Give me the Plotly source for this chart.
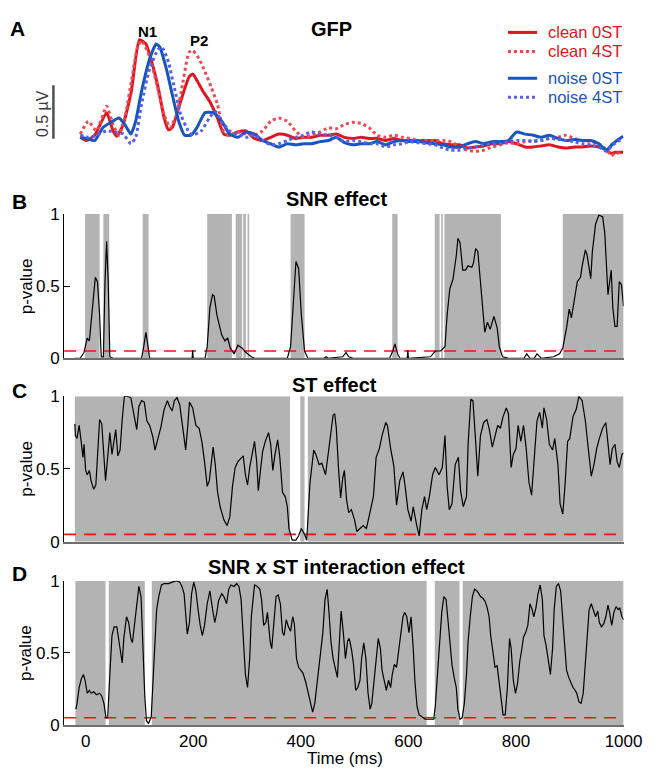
import plotly.graph_objects as go

# ---------------- DATA ----------------
# Panel A: GFP (time ms, microvolts)
clean_0st = [(-10,.15),(1,.12),(17,.17),(39,.38),(51,.21),(58,.16),(70,.27),(85,.58),(100,1.06),(112,1.02),(123,.85),(135,.61),(146,.33),(154,.22),(161,.24),(177,.49),(192,.71),(199,.74),(207,.68),(218,.58),(230,.49),(245,.33),(257,.18),(268,.17),(283,.20),(298,.21),(314,.14),(329,.12),(344,.15),(359,.18),(375,.17),(390,.14),(405,.15),(420,.15),(436,.17),(451,.17),(466,.18),(481,.15),(497,.14),(512,.15),(527,.14),(542,.14),(558,.12),(573,.14),(588,.12),(603,.12),(618,.12),(634,.12),(649,.12),(664,.09),(679,.08),(695,.08),(710,.05),(725,.06),(740,.07),(756,.09),(771,.09),(786,.11),(801,.09),(817,.06),(832,.06),(847,.07),(862,.08),(878,.06),(893,.05),(908,.06),(923,.06),(939,.07),(954,.06),(969,.03),(977,.0),(984,.01),(999,.01)]
clean_4st = [(-10,.18),(5,.30),(20,.21),(39,.44),(51,.27),(62,.17),(74,.36),(85,.67),(97,1.0),(104,1.05),(116,.94),(131,.67),(146,.36),(157,.24),(169,.36),(180,.64),(192,.94),(199,.96),(211,.88),(222,.76),(234,.61),(245,.46),(257,.20),(268,.17),(283,.20),(298,.18),(314,.17),(329,.21),(344,.30),(359,.33),(375,.30),(390,.21),(405,.15),(420,.17),(436,.20),(451,.24),(466,.23),(481,.27),(497,.29),(512,.28),(527,.24),(542,.17),(558,.15),(573,.17),(588,.15),(603,.14),(618,.12),(634,.12),(649,.12),(664,.12),(679,.11),(695,.06),(710,.03),(725,.02),(740,.03),(756,.06),(771,.08),(786,.10),(801,.09),(817,.11),(832,.12),(847,.12),(862,.14),(878,.15),(893,.17),(908,.14),(923,.12),(939,.11),(954,.09),(969,.03),(977,-.02),(984,0),(999,.01)]
noise_0st = [(-10,.15),(1,.14),(17,.12),(32,.24),(47,.29),(62,.33),(74,.26),(84,.18),(93,.30),(104,.58),(119,.88),(131,1.02),(138,.99),(150,.79),(161,.55),(173,.30),(184,.17),(196,.17),(207,.24),(222,.38),(237,.38),(253,.30),(268,.18),(283,.15),(298,.20),(314,.18),(329,.12),(344,.09),(359,.06),(375,.09),(390,.08),(405,.09),(420,.09),(436,.11),(451,.12),(466,.15),(481,.10),(497,.08),(512,.09),(527,.09),(542,.11),(558,.08),(573,.11),(588,.12),(603,.11),(618,.11),(634,.10),(649,.09),(664,.08),(679,.06),(695,.06),(710,.09),(725,.11),(740,.09),(756,.11),(771,.11),(786,.12),(801,.20),(817,.18),(832,.17),(847,.15),(862,.17),(878,.14),(893,.12),(908,.13),(923,.12),(939,.12),(954,.09),(968,.03),(980,.09),(999,.16)]
noise_4st = [(-10,.17),(5,.15),(20,.17),(39,.21),(55,.20),(70,.18),(84,.09),(93,.15),(104,.46),(119,.79),(135,.97),(142,.99),(154,.85),(165,.61),(177,.36),(192,.20),(199,.17),(215,.21),(230,.33),(241,.39),(253,.30),(268,.21),(283,.18),(298,.15),(314,.17),(329,.12),(344,.08),(359,.09),(375,.12),(390,.15),(405,.17),(420,.20),(436,.18),(451,.17),(466,.15),(481,.11),(497,.12),(512,.11),(527,.09),(542,.09),(558,.06),(573,.08),(588,.09),(603,.11),(618,.10),(634,.09),(649,.08),(664,.05),(679,.03),(695,.03),(710,.05),(725,.06),(740,.08),(756,.09),(771,.09),(786,.11),(801,.12),(817,.12),(832,.11),(847,.12),(862,.14),(878,.13),(893,.12),(908,.11),(923,.09),(939,.08),(954,.06),(968,.02),(980,.08),(999,.14)]

# Panel B: SNR effect p-values
snr_p = [(-20,0),(-10,0),(-3,.04),(3,.14),(7,.12),(13,.35),(18,.56),(22,.53),(26,.30),(29,.01),(33,.01),(36,.53),(39,.81),(42,.53),(45,.01),(51,0),(104,0),(108,.08),(112,.18),(116,.08),(119,0),(198,0),(199,.055),(200,0),(222,0),(226,.08),(231,.35),(236,.44),(239,.43),(244,.30),(249,.23),(253,.16),(259,.12),(264,.14),(269,.07),(276,.03),(283,.09),(291,.07),(298,.04),(308,.01),(314,0),(375,0),(381,.08),(386,.35),(391,.67),(396,.62),(401,.30),(407,.05),(413,0),(443,0),(447,.01),(451,0),(478,.01),(484,.04),(489,.01),(497,0),(565,0),(571,.05),(575,.10),(580,.03),(584,0),(598,0),(599,.055),(600,0),(641,.01),(650,.05),(660,.05),(668,.08),(672,.30),(677,.48),(683,.55),(689,.71),(692,.83),(696,.80),(701,.61),(706,.61),(711,.64),(718,.63),(721,.66),(725,.76),(729,.74),(733,.57),(739,.30),(742,.18),(747,.25),(752,.20),(759,.29),(765,.21),(769,.08),(775,.01),(786,0),(815,0),(820,.03),(826,0),(834,0),(839,.03),(847,0),(870,.01),(881,.03),(887,.07),(894,.21),(899,.34),(903,.28),(908,.40),(914,.53),(920,.56),(923,.64),(929,.75),(932,.72),(939,.55),(942,.74),(948,.93),(954,.99),(961,.98),(965,.87),(971,.44),(977,.61),(980,.35),(984,.22),(988,.22),(992,.53),(996,.51),(1000,.36)]
snr_ns_start = [-1, 33, 106, 226, 279, 293, 301, 381, 570, 649, 661, 667, 887]
snr_ns_end   = [26, 44, 117, 272, 291, 298, 304, 407, 580, 658, 664, 772, 1000]

# Panel C: ST effect p-values
st_p = [(-20,.81),(-19,.73),(-16,.71),(-12,.80),(-8,.68),(-5,.58),(-3,.67),(0,.49),(3,.46),(7,.49),(10,.42),(15,.36),(19,.39),(23,.62),(26,.84),(30,.81),(34,.58),(37,.42),(41,.58),(45,.75),(49,.60),(52,.67),(56,.77),(60,.59),(64,.63),(68,.84),(72,1.0),(77,1.0),(84,.99),(89,.89),(95,.77),(99,.93),(104,.97),(109,.96),(114,.83),(119,.80),(125,.72),(129,.63),(135,.71),(140,.79),(146,.91),(152,.97),(156,.93),(161,.90),(165,.97),(170,.99),(175,.94),(180,.80),(186,.63),(190,.80),(193,.96),(199,.92),(205,.80),(211,.78),(216,.69),(221,.55),(226,.38),(230,.42),(234,.55),(237,.65),(241,.53),(245,.35),(250,.24),(257,.15),(263,.11),(268,.17),(273,.38),(278,.51),(283,.55),(289,.57),(293,.59),(297,.46),(301,.39),(305,.51),(308,.58),(314,.69),(318,.55),(321,.35),(325,.49),(329,.62),(334,.69),(340,.75),(344,.67),(348,.49),(352,.60),(357,.70),(361,.58),(366,.34),(371,.31),(375,.24),(378,.09),(384,.01),(391,.01),(396,.04),(401,.09),(407,.05),(411,.01),(417,.40),(424,.63),(428,.60),(434,.53),(439,.54),(446,.46),(451,.62),(455,.72),(460,.87),(463,.88),(466,.78),(470,.51),(474,.30),(478,.44),(481,.49),(485,.29),(489,.20),(494,.22),(500,.15),(504,.07),(510,.09),(516,.11),(522,.09),(527,.17),(535,.31),(540,.58),(546,.64),(551,.73),(558,.82),(561,.80),(567,.64),(573,.52),(578,.25),(584,.42),(590,.48),(594,.38),(599,.22),(605,.14),(609,.24),(615,.12),(620,.04),(625,.22),(630,.31),(634,.22),(639,.31),(645,.46),(650,.51),(657,.46),(663,.51),(668,.73),(672,.38),(676,.22),(681,.26),(687,.53),(693,.58),(697,.35),(702,.24),(708,.31),(711,.67),(716,.98),(720,.97),(725,.69),(729,.45),(734,.73),(740,.82),(746,.84),(750,.78),(756,.65),(761,.73),(766,.80),(771,.78),(776,.86),(782,.92),(786,.88),(791,.51),(795,.60),(800,.64),(804,.80),(809,.69),(814,.80),(819,.64),(824,.41),(829,.32),(834,.58),(839,.83),(844,.89),(849,.78),(852,.92),(857,.84),(862,.67),(868,.63),(872,.71),(878,.53),(882,.26),(887,.19),(891,.38),(896,.69),(900,.71),(906,.86),(912,.91),(917,1.0),(923,.97),(929,.83),(935,.62),(940,.45),(945,.53),(950,.64),(955,.71),(961,.78),(967,.82),(971,.69),(975,.53),(979,.64),(984,.67),(988,.55),(992,.51),(997,.60),(1000,.61)]
st_ns_start = [-20, 399, 413]
st_ns_end   = [380, 407, 1000]

# Panel D: SNR x ST interaction p-values
int_p = [(-18,.11),(-16,.15),(-12,.26),(-8,.32),(-4,.35),(-1,.31),(3,.22),(7,.24),(10,.22),(15,.23),(20,.21),(26,.22),(30,.20),(34,.15),(38,.05),(41,.05),(45,.35),(49,.62),(53,.68),(58,.68),(64,.53),(68,.43),(71,.60),(76,.75),(80,.71),(84,.60),(87,.57),(91,.69),(95,.84),(99,.96),(103,.89),(106,.53),(110,.20),(113,.03),(117,.01),(122,.06),(125,.31),(129,.64),(132,.80),(136,.89),(141,.97),(146,.98),(154,.98),(161,.99),(169,1.0),(175,.99),(179,.96),(183,.91),(186,.75),(189,.63),(193,.71),(197,.91),(201,.99),(205,.93),(209,.80),(213,.69),(217,.62),(221,.69),(226,.84),(231,.93),(236,.80),(240,.71),(244,.78),(247,.86),(253,.91),(257,.89),(262,.84),(266,.94),(270,.97),(276,.96),(281,.98),(285,.96),(289,.87),(292,.64),(297,.35),(301,.26),(305,.46),(308,.75),(314,.97),(319,.96),(324,.94),(327,.87),(331,.69),(335,.71),(338,.78),(343,.58),(346,.53),(350,.71),(354,.89),(358,.90),(362,.84),(366,.64),(369,.62),(373,.73),(377,.68),(381,.65),(385,.75),(388,.70),(392,.46),(396,.40),(400,.38),(404,.36),(409,.30),(414,.22),(418,.14),(422,.09),(426,.15),(430,.29),(433,.38),(437,.49),(441,.64),(445,.87),(449,.94),(452,.80),(456,.58),(460,.46),(464,.40),(468,.33),(471,.53),(475,.79),(479,.64),(483,.46),(487,.58),(490,.60),(494,.53),(498,.42),(502,.24),(506,.26),(510,.31),(513,.46),(517,.57),(521,.46),(525,.22),(529,.11),(532,.15),(536,.31),(540,.49),(544,.60),(548,.53),(551,.38),(555,.31),(559,.24),(563,.31),(567,.26),(570,.35),(574,.42),(578,.40),(582,.53),(586,.64),(590,.75),(593,.78),(597,.75),(601,.64),(605,.75),(609,.53),(612,.31),(616,.13),(620,.07),(624,.06),(628,.05),(631,.04),(635,.04),(639,.04),(643,.04),(647,.04),(650,.13),(654,.35),(658,.58),(662,.78),(666,.89),(670,.87),(673,.75),(677,.58),(681,.42),(685,.33),(689,.26),(692,.11),(696,.04),(700,.05),(704,.15),(708,.35),(711,.58),(715,.75),(719,.89),(723,.94),(727,.93),(731,.91),(734,.89),(738,.88),(742,.86),(746,.82),(750,.75),(753,.62),(757,.49),(761,.40),(765,.41),(769,.29),(772,.17),(776,.07),(780,.07),(784,.26),(788,.60),(791,.53),(795,.31),(799,.22),(803,.29),(807,.44),(811,.53),(814,.61),(818,.64),(822,.69),(826,.84),(830,.80),(833,.75),(837,.81),(841,.91),(845,.97),(849,.87),(852,.62),(856,.55),(860,.44),(864,.35),(868,.53),(871,.80),(875,.96),(879,.98),(883,.93),(887,.75),(891,.53),(894,.38),(898,.33),(902,.29),(906,.26),(910,.24),(913,.22),(917,.16),(921,.15),(925,.22),(929,.42),(932,.64),(936,.80),(940,.84),(944,.80),(948,.75),(952,.79),(955,.71),(959,.68),(963,.70),(967,.75),(971,.83),(974,.78),(978,.69),(982,.78),(986,.82),(990,.80),(993,.81),(997,.75),(1000,.73)]
int_ns_start = [-19, 43, 123, 649, 701]
int_ns_end   = [37, 110, 634, 695, 1000]

alpha = 0.05
time_ticks = [0, 200, 400, 600, 800, 1000]
p_ticks = [0, 0.5, 1]
p_tick_text = ["0", "0.5", "1"]
gfp_names = ["clean 0ST", "clean 4ST", "noise 0ST", "noise 4ST"]

# ---------------- STYLE ----------------
W, H = 662, 776
FONT = "Arial, Liberation Sans, sans-serif"
RED = "rgb(222,22,32)"
RED_L = "rgb(240,72,82)"
BLUE = "rgb(25,85,190)"
BLUE_L = "rgb(85,95,235)"
GRAY = "rgb(179,179,179)"
XR = [-40, 1000]

def px(x):
    return x / W

def py(y):
    return 1 - y / H

fig = go.Figure()

gfp_series = [clean_0st, clean_4st, noise_0st, noise_4st]
gfp_styles = [(RED, "solid"), (RED_L, "dot"), (BLUE, "solid"), (BLUE_L, "dot")]
for name, ser, (col, dash) in zip(gfp_names, gfp_series, gfp_styles):
    fig.add_trace(go.Scatter(x=[t for t, _ in ser], y=[v for _, v in ser], mode="lines",
                             name=name, line=dict(color=col, width=3, dash=dash, shape="spline", smoothing=0.5),
                             xaxis="x", yaxis="y", showlegend=False))

panels = [
    ("2", snr_p, snr_ns_start, snr_ns_end),
    ("3", st_p, st_ns_start, st_ns_end),
    ("4", int_p, int_ns_start, int_ns_end),
]
shapes = []
for ax, data, s0, s1 in panels:
    for a, b in zip(s0, s1):
        shapes.append(dict(type="rect", xref="x" + ax, yref="y" + ax, x0=a, x1=b, y0=0, y1=1,
                           fillcolor=GRAY, line=dict(width=0), layer="below"))
    fig.add_trace(go.Scatter(x=XR, y=[alpha, alpha], mode="lines", xaxis="x" + ax, yaxis="y" + ax,
                             line=dict(color="rgb(235,20,20)", width=1.6, dash="12px,8px"),
                             showlegend=False, hoverinfo="skip"))
    fig.add_trace(go.Scatter(x=[t for t, _ in data], y=[v for _, v in data], mode="lines",
                             xaxis="x" + ax, yaxis="y" + ax, line=dict(color="black", width=1.2),
                             showlegend=False))

# scale bar (0.5 uV) in panel A
shapes.append(dict(type="line", xref="paper", yref="y", x0=px(55), x1=px(55), y0=0.136, y1=0.636,
                   line=dict(color="rgb(80,80,80)", width=2.5)))

# legend samples
leg_rows = [24, 43.5, 71, 90.5]
for (col, dash), yy in zip(gfp_styles, leg_rows):
    shapes.append(dict(type="line", xref="paper", yref="paper", x0=px(523), x1=px(553),
                       y0=py(yy), y1=py(yy), line=dict(color=col, width=3, dash=dash)))

dom_x = [px(66), px(642)]
axis_common = dict(range=XR, domain=dom_x, showgrid=False, zeroline=False)

layout = dict(
    width=W, height=H, margin=dict(l=0, r=0, t=0, b=0),
    paper_bgcolor="white", plot_bgcolor="white",
    font=dict(family=FONT, size=17, color="black"),
    showlegend=False,
    xaxis=dict(**axis_common, visible=False, anchor="y"),
    yaxis=dict(domain=[py(153), py(18)], range=[-0.045, 1.182], visible=False, anchor="x"),
)
ydoms = {"2": [py(358), py(210)], "3": [py(546), py(397)], "4": [py(734), py(586)]}
for ax in ["2", "3", "4"]:
    layout["xaxis" + ax] = dict(**axis_common, anchor="y" + ax, showline=True,
                                linecolor="rgb(110,110,110)", linewidth=2,
                                ticks="", tickvals=time_ticks,
                                showticklabels=(ax == "4"), tickfont=dict(size=17))
    layout["yaxis" + ax] = dict(domain=ydoms[ax], range=[0, 1], anchor="x" + ax,
                                showgrid=False, zeroline=False, showline=True,
                                linecolor="black", linewidth=1, ticks="inside", ticklen=6,
                                tickcolor="black", tickvals=p_ticks, ticktext=p_tick_text,
                                tickfont=dict(size=17))

ann = []
def text(x, y, s, size=17, bold=False, color="black", angle=0, xanchor="center"):
    ann.append(dict(x=px(x), y=py(y), xref="paper", yref="paper", text=("<b>%s</b>" % s) if bold else s,
                    showarrow=False, font=dict(size=size, color=color, family=FONT),
                    textangle=angle, xanchor=xanchor, yanchor="middle"))

text(18, 20, "A", 21, True)
text(20, 197, "B", 21, True)
text(20, 391, "C", 21, True)
text(20, 579, "D", 21, True)
text(341, 21, "GFP", 20, True)
text(346, 195, "SNR effect", 20, True)
text(344, 385, "ST effect", 20, True)
text(346, 572, "SNR x ST interaction effect", 20, True)
for yy in [284, 471, 660]:
    text(27, yy, "p-value", 17, angle=-90)
text(355, 768, "Time (ms)", 17)
text(44, 107, "0.5 µV", 16, color="rgb(60,60,60)", angle=-90)
leg_cols = [RED, RED, BLUE, BLUE]
for name, col, yy in zip(gfp_names, leg_cols, leg_rows):
    text(562, yy, name, 16.5, color=col, xanchor="left")
ann.append(dict(x=115, y=1.14, xref="x", yref="y", text="<b>N1</b>", showarrow=False,
                font=dict(size=15, family=FONT)))
ann.append(dict(x=211, y=1.05, xref="x", yref="y", text="<b>P2</b>", showarrow=False,
                font=dict(size=15, family=FONT)))

layout["shapes"] = shapes
layout["annotations"] = ann
fig.update_layout(layout)
fig.write_html("out.html")
